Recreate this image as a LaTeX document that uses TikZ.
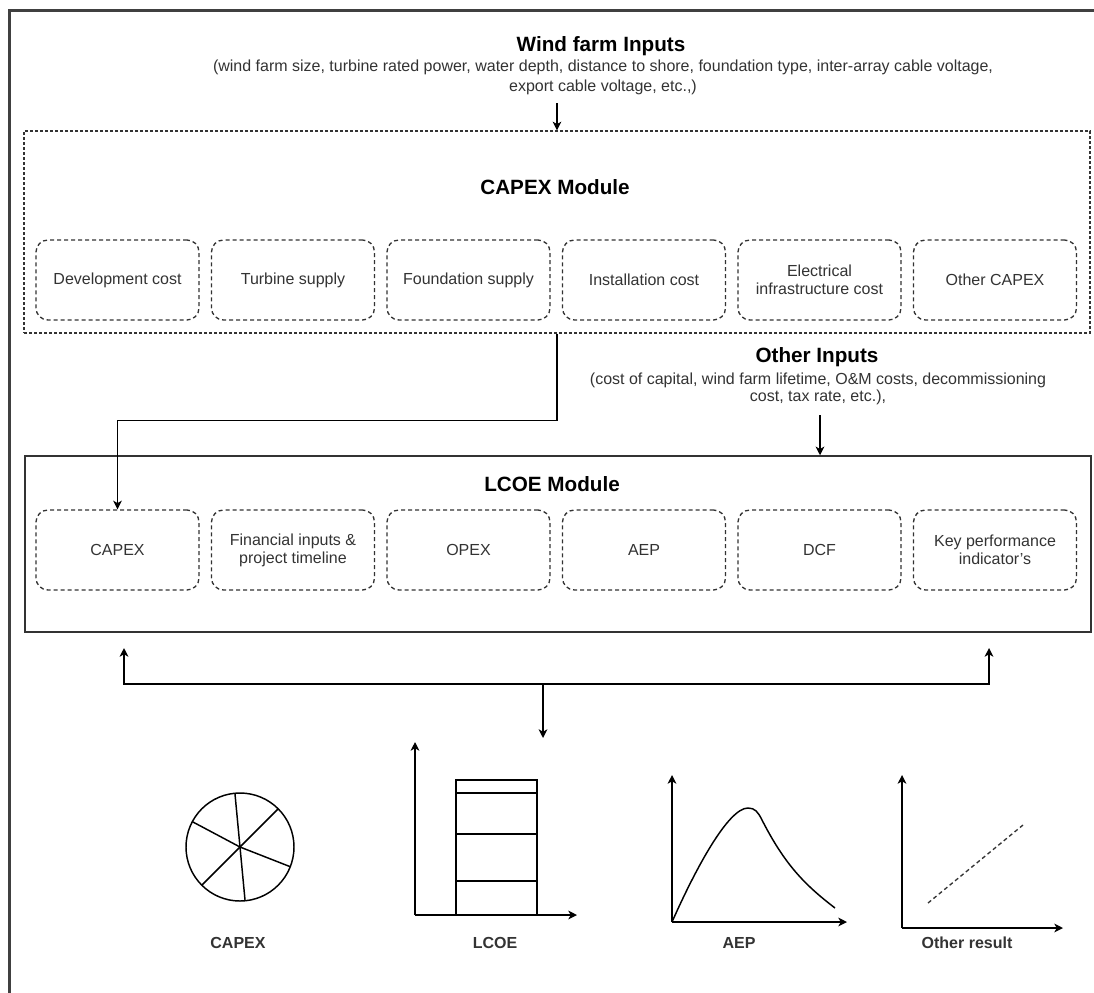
\documentclass[tikz,border=0pt]{standalone}
\usepackage{fontspec}
\setmainfont{Liberation Sans}
\usetikzlibrary{arrows.meta,calc}
\definecolor{dk}{HTML}{333333}
\begin{document}
\begin{tikzpicture}[x=0.75pt,y=-0.75pt,
  arr/.style={-{Stealth[length=6.5pt,width=6.5pt,inset=1.8pt]}, line width=1.1pt, draw=black},
  capmod/.style={draw=dk, line width=1pt, dash pattern=on 2.25pt off 1.5pt, minimum width=799.5pt, minimum height=151.5pt, inner sep=0pt},
  lcmod/.style={draw=dk, line width=1.1pt, minimum width=799.5pt, minimum height=132pt, inner sep=0pt},
  subbox/.style={draw=dk, dash pattern=on 3pt off 2.25pt, line width=1pt, rounded corners=9pt, minimum width=122.25pt, minimum height=60pt, align=center, inner sep=0pt, font=\fontsize{12pt}{13.5pt}\selectfont, text=dk},
  ttl/.style={font=\bfseries\fontsize{15.5pt}{18pt}\selectfont, inner sep=0pt},
  sub/.style={align=center, text=dk, inner sep=0pt},
  lbl/.style={font=\bfseries\fontsize{12pt}{14pt}\selectfont, text=dk, inner sep=0pt},
  plot/.style={line width=1.1pt, draw=black}
]
\useasboundingbox (0,0) rectangle (1094,992);
\clip (0,0) rectangle (1094,992);
\fill[white] (0,0) rectangle (1094,992);
% outer frame
\draw[line width=2.25pt, draw=black!75] (9.5,10.5) rectangle (1130,1030);

% Wind farm inputs
\node[ttl] (wt) at (601,46) {Wind farm Inputs};
\node[sub, font=\fontsize{12pt}{15pt}\selectfont] (ws) at (603,77) {(wind farm size, turbine rated power, water depth, distance to shore, foundation type, inter-array cable voltage,\\export cable voltage, etc.,)};
\coordinate (wa) at (557,103);

% CAPEX module
\node[capmod] (capexmod) at (557,232) {};
\node[ttl] (capt) at (555,187) {CAPEX Module};
\node[subbox] (c1) at (117.5,280) {Development cost};
\node[subbox] (c2) at (293,280) {Turbine supply};
\node[subbox] (c3) at (468.5,280) {Foundation supply};
\node[subbox] (c4) at (644,280) {Installation cost};
\node[subbox] (c5) at (819.5,280) {Electrical\\infrastructure cost};
\node[subbox] (c6) at (995,280) {Other CAPEX};
\draw[arr] (wa) -- (capexmod.north);

% Other inputs
\node[ttl] (ot) at (817,357) {Other Inputs};
\node[sub, font=\fontsize{12pt}{12.75pt}\selectfont] (os) at (818,389) {(cost of capital, wind farm lifetime, O\&M costs, decommissioning\\cost, tax rate, etc.),};
\coordinate (oa) at (820,415);

% LCOE module
\node[lcmod] (lcoemod) at (558,544) {};
\node[ttl] (lt) at (552,484) {LCOE Module};
\node[subbox] (l1) at (117.5,550) {CAPEX};
\node[subbox] (l2) at (293,550) {Financial inputs \&\\project timeline};
\node[subbox] (l3) at (468.5,550) {OPEX};
\node[subbox] (l4) at (644,550) {AEP};
\node[subbox] (l5) at (819.5,550) {DCF};
\node[subbox] (l6) at (995,550) {Key performance\\indicator's};

\draw[arr] (oa) -- (oa |- lcoemod.north);
\draw[arr] (capexmod.south) -- ++(0,87) -| (l1.north);

% bottom bus
\coordinate (jm) at (543,684);
\coordinate (j1) at (124,684);
\coordinate (j2) at (989,684);
\coordinate (bl) at (124,648);
\coordinate (br) at (989,648);
\coordinate (bd) at (543,738);
\draw[arr] (jm) -- (j1) -- (bl);
\draw[arr] (jm) -- (j2) -- (br);
\draw[arr] (jm) -- (bd);

% Pie chart (CAPEX)
\coordinate (pc) at (240,847);
\draw[plot] (pc) circle[radius=54];
\foreach \a in {264.6,84.6,315,135,208,21.4} \draw[plot] (pc) -- ++(\a:54);
\node[lbl] (cl) at (238,943) {CAPEX};

% Bar chart (LCOE)
\coordinate (lo) at (415,915);
\draw[arr] (lo) -- (415,742);
\draw[arr] (lo) -- (577,915);
\draw[plot] (456,915) rectangle (537,780);
\draw[plot] (456,793) -- (537,793);
\draw[plot] (456,834) -- (537,834);
\draw[plot] (456,881) -- (537,881);
\node[lbl] (ll) at (495,943) {LCOE};

% AEP chart
\coordinate (ao) at (672,922);
\draw[arr] (ao) -- (672,775);
\draw[arr] (ao) -- (847,922);
\draw[plot] (ao) .. controls (695,870) and (728,808) .. (748,808)
  .. controls (755,808) and (758,812) .. (762,820)
  .. controls (785,865) and (805,885) .. (835,908);
\node[lbl] (al) at (739,943) {AEP};

% Other result chart
\coordinate (oo) at (902,928);
\draw[arr] (oo) -- (902,775);
\draw[arr] (oo) -- (1063,928);
\draw[line width=1pt, draw=dk, dash pattern=on 3pt off 2.25pt] (928,903) -- (1023,825);
\node[lbl] (orl) at (967,943) {Other result};
\end{tikzpicture}
\end{document}
